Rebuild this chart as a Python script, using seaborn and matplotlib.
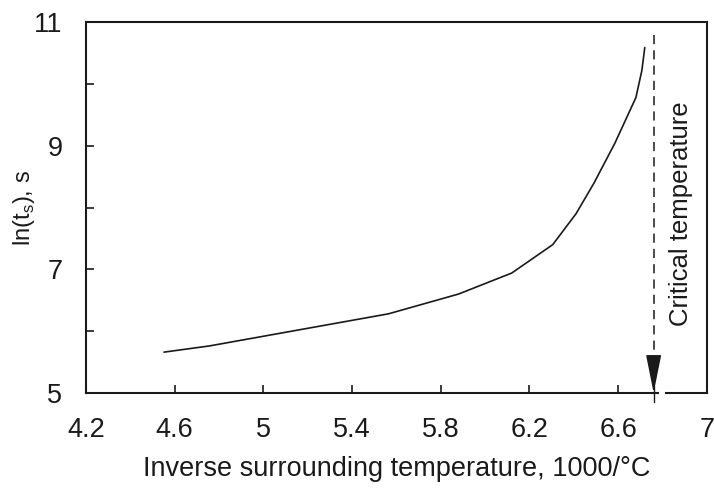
import matplotlib
matplotlib.use("Agg")
import matplotlib.pyplot as plt
import seaborn as sns
import pandas as pd

inv_temp = [4.552, 4.756, 5.564, 5.88, 6.12, 6.305, 6.41, 6.49, 6.585, 6.68, 6.707, 6.72]
ln_ts = [5.66, 5.76, 6.28, 6.60, 6.94, 7.40, 7.90, 8.39, 9.04, 9.78, 10.22, 10.59]
critical_x = 6.76
critical_top = 10.8
x_ticks = [4.2, 4.6, 5, 5.4, 5.8, 6.2, 6.6, 7]
x_ticklabels = ["4.2", "4.6", "5", "5.4", "5.8", "6.2", "6.6", "7"]
y_ticks = [5, 7, 9, 11]
y_minor = [6, 8, 10]

sns.set_theme(style="ticks")
plt.rcParams['font.family'] = ['Liberation Sans', 'DejaVu Sans']

INK = "#1a1a1a"
df = pd.DataFrame({"x": inv_temp, "y": ln_ts})
fig, ax = plt.subplots(figsize=(7.14, 4.93), dpi=100)
fig.subplots_adjust(left=0.1204, right=0.990, top=0.955, bottom=0.203)

sns.lineplot(data=df, x="x", y="y", ax=ax, color=INK, linewidth=1.2, sort=False)

# dashed vertical line for critical temperature
ax.plot([critical_x, critical_x], [5.45, critical_top], color=INK, lw=1.1,
        linestyle=(0, (6, 4)))
# arrow head
ax.annotate("", xy=(critical_x, 5), xytext=(critical_x, 5.6),
            arrowprops=dict(arrowstyle="-|>,head_length=1.1,head_width=0.22",
                            mutation_scale=22, color=INK, lw=1.0,
                            shrinkA=0, shrinkB=0))
# small gap in axis and cross mark
ax.plot([critical_x + 0.022, critical_x + 0.05], [5, 5], color="white", lw=3,
        clip_on=False, zorder=5, solid_capstyle="butt")
ax.plot([critical_x, critical_x], [4.86, 5.12], color=INK, lw=1.0, clip_on=False, zorder=6)

ax.text(critical_x + 0.125, 7.9, "Critical temperature", rotation=90,
        ha="center", va="center", fontsize=18.5, color=INK)

ax.set_xlim(4.2, 7)
ax.set_ylim(5, 11)
ax.set_xticks(x_ticks)
ax.set_xticklabels(x_ticklabels)
ax.set_yticks(y_ticks)
ax.set_yticks(y_minor, minor=True)
ax.tick_params(axis="both", which="both", direction="in", labelsize=19.5, colors=INK)
ax.tick_params(axis="both", which="major", length=6, width=1.2)
ax.tick_params(axis="y", which="minor", length=6, width=1.2)
ax.tick_params(axis="x", which="major", pad=17)
ax.tick_params(axis="y", which="major", pad=17)
for s in ax.spines.values():
    s.set_linewidth(1.5)
    s.set_color(INK)
    s.set_visible(True)

ax.set_xlabel("Inverse surrounding temperature, 1000/°C", fontsize=19.5, labelpad=10, color=INK)
ax.set_ylabel("ln(t$_\\mathregular{s}$), s", fontsize=17, color=INK)
ax.yaxis.set_label_coords(-0.079, 0.5)

fig.savefig("out.png", dpi=100)
